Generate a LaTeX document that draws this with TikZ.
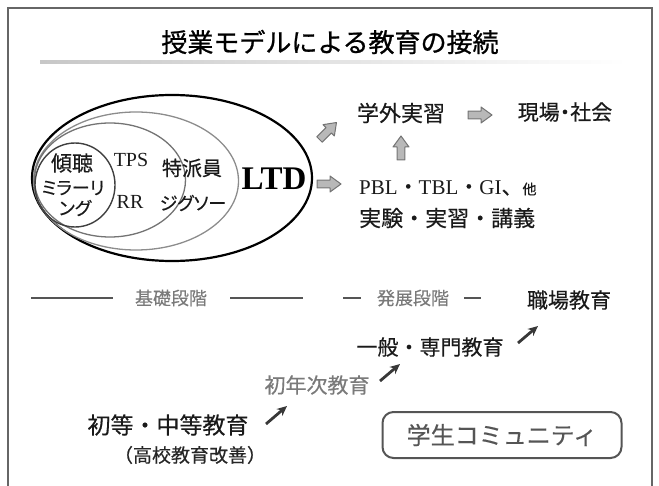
\documentclass[tikz,border=0pt]{standalone}
\usepackage{fontspec}
\setmainfont{Liberation Serif}
\newfontfamily\jp[FakeBold=0.4]{Noto Sans CJK JP}
\newfontfamily\jpp[RawFeature=+palt,FakeBold=0.4]{Noto Sans CJK JP}
\newfontfamily\jpt[FakeBold=0.9]{Noto Sans CJK JP}
\usetikzlibrary{shapes.geometric,arrows.meta}
\newcommand\myfs[1]{\fontsize{#1}{#1}\selectfont}
\definecolor{dk}{HTML}{1A1A1A}
\definecolor{md}{HTML}{555555}
\definecolor{lt}{HTML}{7A7A7A}
\begin{document}
\begin{tikzpicture}[x=1pt,y=-1pt,
  txt/.style={inner sep=0pt, text=dk},
  blockarrow/.pic={\draw[draw=black!55, fill=black!28, line width=1pt, line join=round]
     (-12,-3.8) -- (1,-3.8) -- (1,-8) -- (12,0) -- (1,8) -- (1,3.8) -- (-12,3.8) -- cycle;},
  steparrow/.style={-{Stealth[length=10pt,width=9pt]}, line width=2.8pt, draw=black!78},
  stageline/.style={line width=1.2pt, draw=md},
  ring/.style={ellipse, inner sep=0pt}]
\useasboundingbox (0,0) rectangle (659,486);
% frame
\draw[line width=1.3pt, draw=black!60] (8,486) -- (8,8) -- (652,8) -- (652,486);
% title
\node[txt, text=black] (title) at (330,42) {\jpt\myfs{26}授業モデルによる教育の接続};
\shade[left color=black!22, right color=white] (40,61) rectangle (627,63.5);
% ellipses
\node[ring, draw=black, line width=2.2pt, minimum width=280pt, minimum height=166pt] (e4) at (172,178) {};
\node[ring, draw=black!45, line width=1.3pt, minimum width=205pt, minimum height=138pt] (e3) at (136,181) {};
\node[ring, draw=black!55, line width=1.3pt, minimum width=151pt, minimum height=114pt] (e2) at (110,180) {};
\node[ring, draw=black!75, line width=1.4pt, minimum width=80pt, minimum height=84pt] (e1) at (75,185) {};
% inner texts
\node[txt] (keicho) at (72,163) {\jp\myfs{21}傾聴};
\node[txt] (mirror1) at (73,188) {\jpp\myfs{18}ミラーリ};
\node[txt] (mirror2) at (75,208) {\jpp\myfs{18}ング};
\node[txt] (tps) at (131,160) {\myfs{20}TPS};
\node[txt] (rr) at (130,202) {\myfs{20}RR};
\node[txt] (tokuha) at (192,168) {\jp\myfs{20}特派員};
\node[txt] (jigsaw) at (193,203) {\jpp\myfs{18}ジグソー};
\node[txt, text=black] (ltd) at (274,179) {\bfseries\myfs{33}LTD};
% right side
\node[txt] (gakugai) at (401,113) {\jp\myfs{22}学外実習};
\pic at (480,115) {blockarrow};
\node[txt] (genba) at (565,112) {\jpp\myfs{21}現場・社会};
\pic[rotate=45] at (328,131) {blockarrow};
\pic[rotate=90] at (401,148) {blockarrow};
\pic at (329,184) {blockarrow};
\node[txt, anchor=west] (pbl) at (359,188) {\myfs{21}PBL{\jp ・}TBL{\jp ・}GI{\jp 、\myfs{14}他}};
\node[txt, anchor=west] (jikken) at (359,218) {\jp\myfs{22}実験・実習・講義};
% stage row
\node[txt, text=lt] (kiso) at (171,298) {\jp\myfs{18}基礎段階};
\node[txt, text=lt] (hatten) at (413,298) {\jp\myfs{18}発展段階};
\node[txt] (shokuba) at (569,300) {\jp\myfs{21}職場教育};
\coordinate (l1a) at (31,298); \coordinate (l1b) at (113,298);
\coordinate (l2a) at (230,298); \coordinate (l2b) at (303,298);
\coordinate (l3a) at (343,298); \coordinate (l3b) at (361,298);
\coordinate (l4a) at (464,298); \coordinate (l4b) at (481,298);
\draw[stageline] (l1a) -- (l1b);
\draw[stageline] (l2a) -- (l2b);
\draw[stageline] (l3a) -- (l3b);
\draw[stageline] (l4a) -- (l4b);
% steps
\node[txt] (ippan) at (430,347) {\jp\myfs{21}一般・専門教育};
\node[txt, text=lt] (shonen) at (317,385) {\jp\myfs{21}初年次教育};
\node[txt] (shoto) at (168,425) {\jp\myfs{23}初等・中等教育};
\node[txt, text=black!85] (koko) at (190,455) {\jp\myfs{19}（高校教育改善）};
\coordinate (s1a) at (266,424); \coordinate (s1b) at (287,406);
\coordinate (s2a) at (380,381); \coordinate (s2b) at (400,364);
\coordinate (s3a) at (518,343); \coordinate (s3b) at (538,326);
\draw[steparrow] (s1a) -- (s1b);
\draw[steparrow] (s2a) -- (s2b);
\draw[steparrow] (s3a) -- (s3b);
% community
\node[draw=md, line width=2pt, rounded corners=11pt, minimum width=239pt, minimum height=46pt, text=md, inner sep=0pt] (comm) at (502,435) {\jp\myfs{24}学生コミュニティ};
\end{tikzpicture}
\end{document}
